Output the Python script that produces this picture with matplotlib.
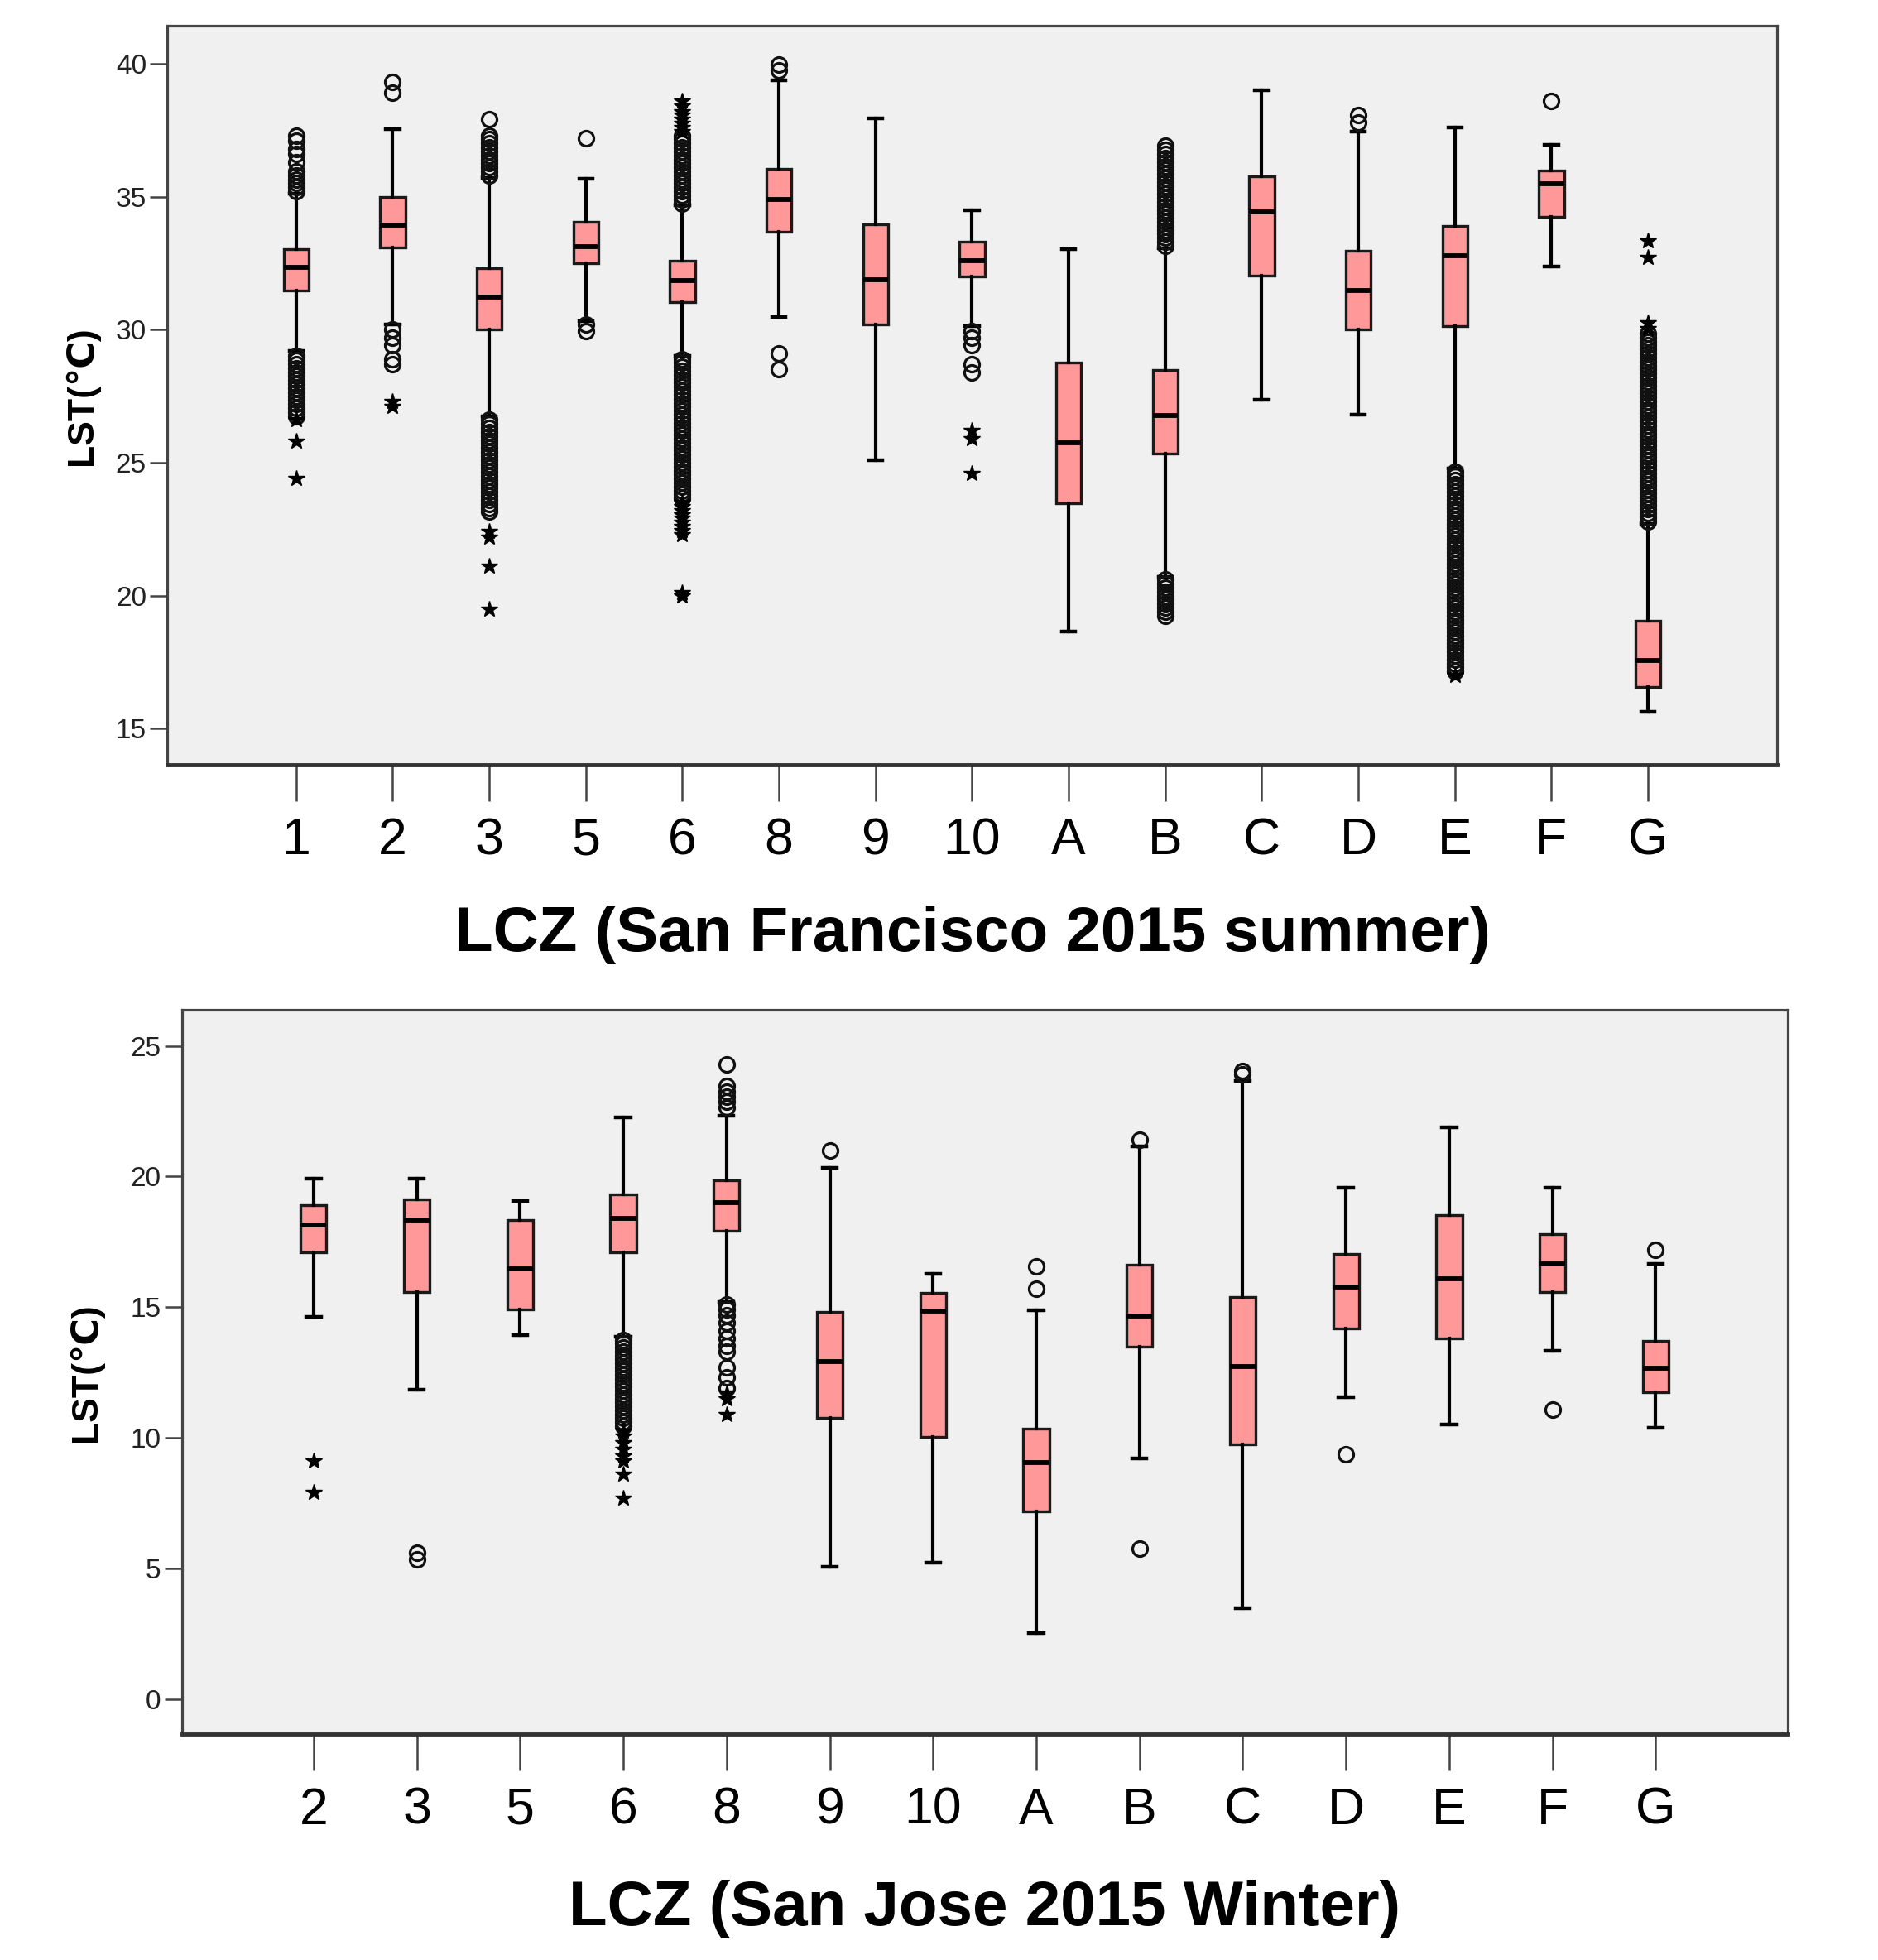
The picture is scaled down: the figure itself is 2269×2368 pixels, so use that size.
import matplotlib
matplotlib.use('Agg')
import matplotlib.pyplot as plt

plt.rcParams['font.family'] = ['Liberation Sans', 'DejaVu Sans']

# ---- San Francisco 2015 summer ----
sf_labels = ['1', '2', '3', '5', '6', '8', '9', '10', 'A', 'B', 'C', 'D', 'E', 'F', 'G']
sf_q1 = [31.46, 33.08, 30.01, 32.51, 31.04, 33.67, 30.18, 31.99, 23.48, 25.33, 32.02, 30.01, 30.14, 34.25, 16.56]
sf_med = [32.33, 33.93, 31.21, 33.12, 31.84, 34.89, 31.87, 32.59, 25.75, 26.78, 34.42, 31.46, 32.78, 35.48, 17.55]
sf_q3 = [33.02, 34.98, 32.31, 34.04, 32.59, 36.04, 33.97, 33.29, 28.76, 28.48, 35.76, 32.97, 33.91, 35.98, 19.05]
sf_lo = [29.2, 30.2, 26.75, 30.33, 29.0, 30.48, 25.09, 30.14, 18.64, 20.71, 27.37, 26.8, 24.77, 32.36, 15.62]
sf_hi = [35.1, 37.53, 35.7, 35.66, 34.66, 39.38, 37.94, 34.48, 33.02, 33.06, 39.0, 37.45, 37.59, 36.95, 22.69]
sf_circles = [
    [35.2, 35.35, 35.5, 35.65, 35.8, 35.95, 36.3, 36.6, 36.8, 37.1, 37.3,
     29.0, 28.85, 28.7, 28.55, 28.4, 28.25, 28.1, 27.95, 27.8, 27.65, 27.5, 27.35, 27.2, 27.05, 26.9, 26.75],
    [39.3, 38.9, 30.0, 29.7, 29.4, 28.9, 28.7],
    [35.8, 35.95, 36.1, 36.25, 36.4, 36.55, 36.7, 36.85, 37.0, 37.15, 37.3, 37.9,
     26.6, 26.45, 26.3, 26.15, 26.0, 25.85, 25.7, 25.55, 25.4, 25.25, 25.1, 24.95, 24.8, 24.65,
     24.5, 24.35, 24.2, 24.05, 23.9, 23.75, 23.6, 23.45, 23.3, 23.15],
    [37.2, 30.2, 29.95],
    [34.75, 34.9, 35.05, 35.2, 35.35, 35.5, 35.65, 35.8, 35.95, 36.1, 36.25, 36.4, 36.55, 36.7,
     36.85, 37.0, 37.15, 37.3,
     28.9, 28.75, 28.6, 28.45, 28.3, 28.15, 28.0, 27.85, 27.7, 27.55, 27.4, 27.25, 27.1, 26.95,
     26.8, 26.65, 26.5, 26.35, 26.2, 26.05, 25.9, 25.75, 25.6, 25.45, 25.3, 25.15, 25.0, 24.85,
     24.7, 24.55, 24.4, 24.25, 24.1, 23.95, 23.8, 23.65],
    [39.95, 39.75, 29.1, 28.5],
    [],
    [29.95, 29.7, 29.4, 28.7, 28.4],
    [],
    [33.15, 33.3, 33.45, 33.6, 33.75, 33.9, 34.05, 34.2, 34.35, 34.5, 34.65, 34.8, 34.95, 35.1,
     35.25, 35.4, 35.55, 35.7, 35.85, 36.0, 36.15, 36.3, 36.45, 36.6, 36.75, 36.9,
     20.6, 20.45, 20.3, 20.15, 20.0, 19.85, 19.7, 19.55, 19.4, 19.25],
    [],
    [38.05, 37.8],
    [24.65, 24.5, 24.35, 24.2, 24.05, 23.9, 23.75, 23.6, 23.45, 23.3, 23.15, 23.0, 22.85, 22.7,
     22.55, 22.4, 22.25, 22.1, 21.95, 21.8, 21.65, 21.5, 21.35, 21.2, 21.05, 20.9, 20.75, 20.6,
     20.45, 20.3, 20.15, 20.0, 19.85, 19.7, 19.55, 19.4, 19.25, 19.1, 18.95, 18.8, 18.65, 18.5,
     18.35, 18.2, 18.05, 17.9, 17.75, 17.6, 17.45, 17.3, 17.15],
    [38.6],
    [22.8, 22.95, 23.1, 23.25, 23.4, 23.55, 23.7, 23.85, 24.0, 24.15, 24.3, 24.45, 24.6, 24.75,
     24.9, 25.05, 25.2, 25.35, 25.5, 25.65, 25.8, 25.95, 26.1, 26.25, 26.4, 26.55, 26.7, 26.85,
     27.0, 27.15, 27.3, 27.45, 27.6, 27.75, 27.9, 28.05, 28.2, 28.35, 28.5, 28.65, 28.8, 28.95,
     29.1, 29.25, 29.4, 29.55, 29.7, 29.85],
]
sf_stars = [
    [26.6, 25.8, 24.4],
    [27.3, 27.1],
    [22.4, 22.2, 21.1, 19.5],
    [],
    [37.45, 37.6, 37.75, 37.9, 38.05, 38.2, 38.4, 38.6,
     23.5, 23.35, 23.2, 23.05, 22.9, 22.75, 22.6, 22.45, 22.3, 20.1, 20.0],
    [],
    [],
    [26.2, 25.9, 24.6],
    [],
    [],
    [],
    [],
    [17.0],
    [],
    [30.05, 30.25, 32.7, 33.35],
]

# ---- San Jose 2015 winter ----
sj_labels = ['2', '3', '5', '6', '8', '9', '10', 'A', 'B', 'C', 'D', 'E', 'F', 'G']
sj_q1 = [17.11, 15.57, 14.9, 17.09, 17.93, 10.75, 10.04, 7.18, 13.48, 9.74, 14.19, 13.81, 15.59, 11.73]
sj_med = [18.15, 18.32, 16.46, 18.38, 18.99, 12.9, 14.84, 9.04, 14.65, 12.71, 15.75, 16.07, 16.65, 12.67]
sj_q3 = [18.89, 19.11, 18.34, 19.32, 19.85, 14.8, 15.55, 10.35, 16.61, 15.4, 17.03, 18.51, 17.8, 13.71]
sj_lo = [14.61, 11.85, 13.92, 13.86, 15.21, 5.07, 5.22, 2.53, 9.2, 3.48, 11.56, 10.5, 13.31, 10.37]
sj_hi = [19.93, 19.93, 19.05, 22.25, 22.31, 20.33, 16.26, 14.88, 21.16, 23.66, 19.57, 21.89, 19.57, 16.65]
sj_circles = [
    [],
    [5.6, 5.35],
    [],
    [13.75, 13.6, 13.45, 13.3, 13.15, 13.0, 12.85, 12.7, 12.55, 12.4, 12.25, 12.1, 11.95, 11.8,
     11.65, 11.5, 11.35, 11.2, 11.05, 10.9, 10.75, 10.6, 10.45],
    [24.3, 23.45, 23.25, 23.05, 22.85, 22.65,
     15.1, 14.9, 14.7, 14.4, 14.1, 13.8, 13.5, 13.3, 12.7, 12.3, 11.9],
    [21.0],
    [],
    [16.55, 15.69],
    [21.41, 5.74],
    [24.05, 23.9],
    [9.35],
    [],
    [11.08],
    [17.19],
]
sj_stars = [
    [9.1, 7.9],
    [],
    [],
    [10.25, 10.05, 9.8, 9.55, 9.3, 9.1, 8.6, 7.7],
    [11.7, 11.5, 10.9],
    [], [], [], [], [], [], [], [], [],
]


def draw_panel(ax, labels, q1, med, q3, lo, hi, circles, stars, width):
    stats = []
    for i in range(len(labels)):
        stats.append({'med': med[i], 'q1': q1[i], 'q3': q3[i],
                      'whislo': lo[i], 'whishi': hi[i], 'fliers': []})
    pos = list(range(len(labels)))
    ax.bxp(stats, positions=pos, widths=width, capwidths=0.14,
           patch_artist=True, showfliers=False,
           boxprops=dict(facecolor='#FF9999', edgecolor='#1a1a1a', linewidth=2.4),
           medianprops=dict(color='black', linewidth=4.2),
           whiskerprops=dict(color='black', linewidth=3.0),
           capprops=dict(color='black', linewidth=3.2))
    for i in pos:
        if circles[i]:
            ax.plot([i] * len(circles[i]), circles[i], 'o', mfc='none', mec='#111111',
                    ms=13, mew=2.3, zorder=4)
        if stars[i]:
            ax.plot([i] * len(stars[i]), stars[i], '*', color='black', ms=15, zorder=4)

    ax.set_facecolor('#F0F0F0')
    ax.set_xticks(pos)
    ax.set_xticklabels(labels)
    ax.tick_params(axis='x', length=32, width=1.8, color='#444444', pad=13, labelsize=45)
    ax.tick_params(axis='y', length=15, width=1.8, color='#444444', pad=3, labelsize=24,
                   labelcolor='#222222')
    for s in ['top', 'right', 'left']:
        ax.spines[s].set_color('#444444')
        ax.spines[s].set_linewidth(2.3)
    ax.spines['bottom'].set_color('#333333')
    ax.spines['bottom'].set_linewidth(3.5)


fig = plt.figure(figsize=(22.69, 23.68), dpi=100)

ax1 = fig.add_axes([0.0890, 0.6098, 0.8574, 0.3769])
draw_panel(ax1, sf_labels, sf_q1, sf_med, sf_q3, sf_lo, sf_hi, sf_circles, sf_stars, 0.26)
ax1.set_xlim(-1.336, 15.34)
ax1.set_ylim(13.64, 41.41)
ax1.set_yticks([15, 20, 25, 30, 35, 40])
ax1.set_xlabel('LCZ (San Francisco 2015 summer)', fontsize=55, fontweight='bold')
ax1.xaxis.set_label_coords(0.5, -0.19)
ax1.set_ylabel('LST(℃)', fontsize=32, fontweight='bold')
ax1.yaxis.set_label_coords(-0.0419, 0.5)

ax2 = fig.add_axes([0.0968, 0.1151, 0.8552, 0.3697])
draw_panel(ax2, sj_labels, sj_q1, sj_med, sj_q3, sj_lo, sj_hi, sj_circles, sj_stars, 0.25)
ax2.set_xlim(-1.276, 14.28)
ax2.set_ylim(-1.36, 26.38)
ax2.set_yticks([0, 5, 10, 15, 20, 25])
ax2.set_xlabel('LCZ (San Jose 2015 Winter)', fontsize=55, fontweight='bold')
ax2.xaxis.set_label_coords(0.5, -0.2)
ax2.set_ylabel('LST(℃)', fontsize=32, fontweight='bold')
ax2.yaxis.set_label_coords(-0.0488, 0.5)

fig.savefig('out.png', dpi=100)
